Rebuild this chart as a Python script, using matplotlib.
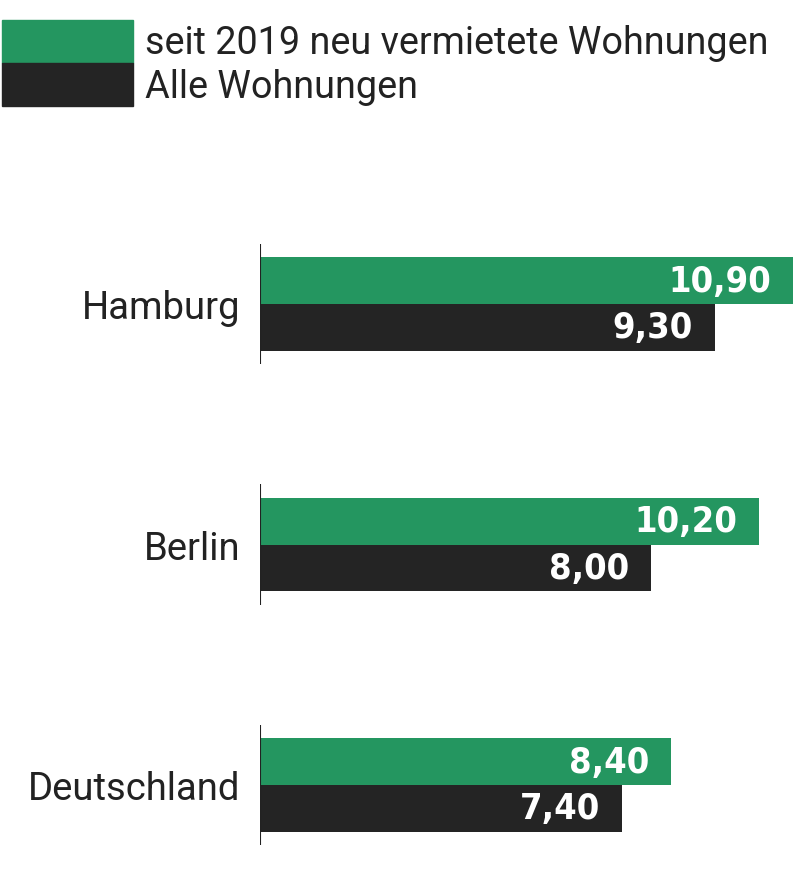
import matplotlib
matplotlib.use('Agg')
import matplotlib.pyplot as plt
from matplotlib.patches import Rectangle
import numpy as np

regions = ['Hamburg', 'Berlin', 'Deutschland']
neu = [10.90, 10.20, 8.40]
alle = [9.30, 8.00, 7.40]
series_names = ['seit 2019 neu vermietete Wohnungen', 'Alle Wohnungen']

GREEN = '#249660'
DARK = '#242424'

W, H = 800, 878
fig = plt.figure(figsize=(W / 100, H / 100), dpi=100)
ax = fig.add_axes([260 / W, 0, 538 / W, (H - 200) / H])

y = np.arange(len(regions))
bh = 0.194
ax.barh(y - bh / 2, neu, height=bh, color=GREEN)
ax.barh(y + bh / 2, alle, height=bh, color=DARK)
ax.vlines([0] * len(y), y - 0.25, y + 0.25, color='#222222', lw=1.5)

ax.set_xlim(0, 11.0)
ax.set_ylim(2 + (H - 786) / 240.5, -(305 - 200) / 240.5)

val_font = dict(family='DejaVu Sans', fontstretch='condensed', weight='bold',
                color='white', fontsize=26, ha='right', va='center')
for yi, v in zip(y, neu):
    ax.annotate(f'{v:.2f}'.replace('.', ','), (v, yi - bh / 2), xytext=(-22, 0),
                textcoords='offset pixels', **val_font)
for yi, v in zip(y, alle):
    ax.annotate(f'{v:.2f}'.replace('.', ','), (v, yi + bh / 2), xytext=(-22, 0),
                textcoords='offset pixels', **val_font)

ax.set_yticks(y)
ax.set_yticklabels(regions, fontsize=27.5, family='Roboto', color='#222222')
ax.tick_params(axis='y', length=0, pad=14)
ax.set_xticks([])
for s in ax.spines.values():
    s.set_visible(False)

# legend
for i, (name, col) in enumerate(zip(series_names, [GREEN, DARK])):
    top = 21 + i * 43
    fig.add_artist(Rectangle((2 / W, 1 - (top + 43) / H), 131 / W, 43 / H,
                             transform=fig.transFigure, color=col))
    fig.text(145 / W, 1 - (top + 23) / H, name, fontsize=27.2, family='Roboto',
             color='#222222', va='center', ha='left')

fig.savefig('out.png', dpi=100)
